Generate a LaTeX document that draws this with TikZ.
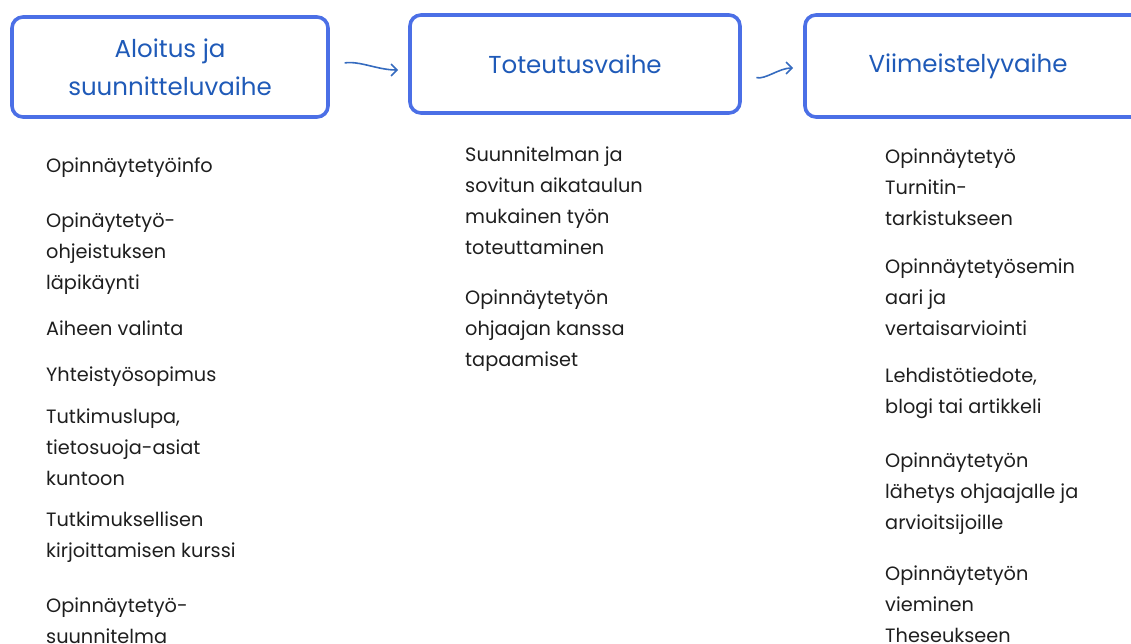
\documentclass[tikz,border=0pt]{standalone}
\usepackage{fontspec}
\setmainfont{Poppins}
\usepackage{tikz}
\usetikzlibrary{arrows.meta,positioning}
\definecolor{frameblue}{HTML}{4B6FE6}
\definecolor{titleblue}{HTML}{1F5AB8}
\definecolor{bodytext}{HTML}{1E1E1E}
\tikzset{
  phase/.style={draw=frameblue, line width=3.6pt, rounded corners=11pt, fill=white, text=titleblue,
                font=\fontsize{24.5}{38}\selectfont, align=center, inner sep=0pt},
  item/.style={anchor=base west, text=bodytext, inner sep=0pt,
               font=\fontsize{19.3}{31}\selectfont},
  flow/.style={-{Straight Barb[length=6pt,width=12pt]}, titleblue!90, line width=1.6pt,
               shorten <=15pt, shorten >=10pt}
}
\newcommand{\steps}[1]{\begin{tabular}[t]{@{}l@{}}#1\end{tabular}}
\begin{document}
\begin{tikzpicture}[x=1pt, y=-1pt]
\useasboundingbox (0,0) rectangle (1131,644);
\node[phase, minimum width=316pt, minimum height=100pt] (p1) at (170,67) {Aloitus ja\\suunnitteluvaihe};
\node[phase, minimum width=330pt, minimum height=98pt] (p2) at (575,64) {Toteutusvaihe};
\node[phase, minimum width=340pt, minimum height=102pt] (p3) at (975,66) {Viimeistelyvaihe\hspace*{14pt}};
\draw[flow] ([yshift=2pt]p1.east) to[out=8, in=180] ([yshift=-6pt]p2.west);
\draw[flow] ([yshift=-10pt]p2.east) to[out=-14, in=180] ([yshift=-2pt]p3.west);
% aloitus
\node[item] (a1) at (46,173) {\steps{Opinnäytetyöinfo}};
\node[item] (a2) at (46,228) {\steps{Opinäytetyö-\\ohjeistuksen\\läpikäynti}};
\node[item] (a3) at (46,335) {\steps{Aiheen valinta}};
\node[item] (a4) at (46,381) {\steps{Yhteistyösopimus}};
\node[item] (a5) at (46,423) {\steps{Tutkimuslupa,\\tietosuoja-asiat\\kuntoon}};
\node[item] (a6) at (46,526) {\steps{Tutkimuksellisen\\kirjoittamisen kurssi}};
\node[item] (a7) at (46,612) {\steps{Opinnäytetyö-\\suunnitelma}};
% toteutus
\node[item] (t1) at (465,162) {\steps{Suunnitelman ja\\sovitun aikataulun\\mukainen työn\\toteuttaminen}};
\node[item] (t2) at (465,304) {\steps{Opinnäytetyön\\ohjaajan kanssa\\tapaamiset}};
% viimeistely
\node[item] (v1) at (885,164) {\steps{Opinnäytetyö\\Turnitin-\\tarkistukseen}};
\node[item] (v2) at (885,273) {\steps{Opinnäytetyösemin\\aari ja\\vertaisarviointi}};
\node[item] (v3) at (885,382) {\steps{Lehdistötiedote,\\blogi tai artikkeli}};
\node[item] (v4) at (885,467) {\steps{Opinnäytetyön\\lähetys ohjaajalle ja\\arvioitsijoille}};
\node[item] (v5) at (885,580) {\steps{Opinnäytetyön\\vieminen\\Theseukseen}};
\end{tikzpicture}
\end{document}
